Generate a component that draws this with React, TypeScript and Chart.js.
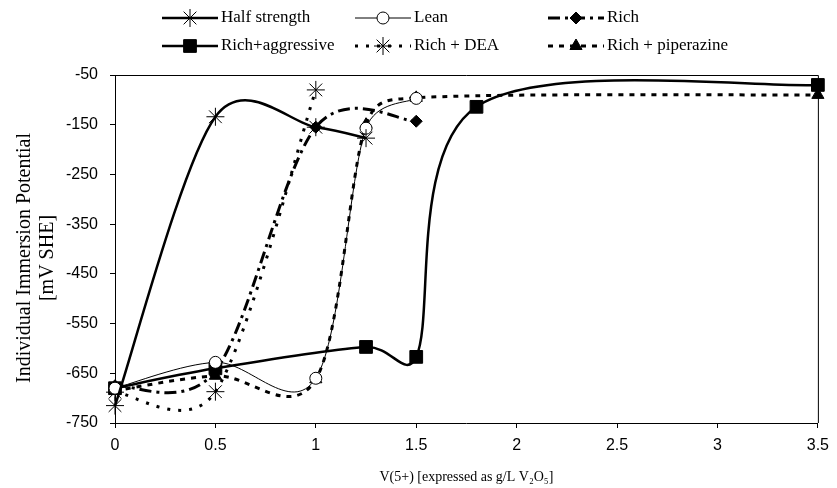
import React, { useEffect, useRef } from 'react';
import { Chart, registerables } from 'chart.js';
import { drawPoint } from 'chart.js/helpers';

Chart.register(...registerables);

// ---- data ----
const halfX = [0, 0.5, 1, 1.25];
const halfY = [-715, -134, -155, -177];
const leanX = [0, 0.5, 1, 1.25, 1.5];
const leanY = [-680, -628, -660, -157, -97];
const richX = [0, 0.5, 1, 1.5];
const richY = [-675, -645, -155, -143];
const aggrX = [0, 0.5, 1.25, 1.5, 1.8, 3.5];
const aggrY = [-680, -640, -597, -617, -114, -70];
const deaX = [0, 0.5, 1];
const deaY = [-688, -687, -80];
const pipX = [0, 0.5, 1, 1.25, 1.5, 3.5];
const pipY = [-685, -655, -662, -150, -96, -90];

const seriesNames = ['Half strength', 'Lean', 'Rich', 'Rich+aggressive', 'Rich + DEA', 'Rich + piperazine'];
const xTitle = 'V(5+) [expressed as g/L V\u2082O\u2085]';
const yTitle = ['Individual Immersion Potential', '[mV SHE]'];

const pts = (xs: number[], ys: number[]) => xs.map((x, i) => ({ x, y: ys[i] }));

const LEGEND_POS = [
  { x0: 162, x1: 218, y: 18 },
  { x0: 355, x1: 411, y: 18 },
  { x0: 548, x1: 604, y: 18 },
  { x0: 162, x1: 218, y: 46 },
  { x0: 355, x1: 411, y: 46 },
  { x0: 548, x1: 604, y: 46 },
];

// Excel-like smoothing: control arms (next - prev) / 6, limited to half of the adjacent segment
const excelSmooth = {
  id: 'excelSmooth',
  beforeDatasetDraw(chart: any, args: any) {
    const meta = args.meta;
    const els = meta.data;
    const n = els.length;
    for (let i = 0; i < n; i++) {
      const p = els[i];
      const prev = els[Math.max(i - 1, 0)];
      const next = els[Math.min(i + 1, n - 1)];
      const tx = next.x - prev.x;
      const ty = next.y - prev.y;
      const tl = Math.hypot(tx, ty) || 1;
      const arm = tl / 6;
      const dPrev = Math.hypot(p.x - prev.x, p.y - prev.y);
      const dNext = Math.hypot(next.x - p.x, next.y - p.y);
      const a1 = Math.min(arm, dPrev / 2);
      const a2 = Math.min(arm, dNext / 2);
      p.cp1x = p.x - (tx / tl) * a1;
      p.cp1y = p.y - (ty / tl) * a1;
      p.cp2x = p.x + (tx / tl) * a2;
      p.cp2y = p.y + (ty / tl) * a2;
    }
    meta.dataset._pointsUpdated = true;
  },
};

const legendPlugin = {
  id: 'customLegend',
  afterDraw(chart: any) {
    const ctx = chart.ctx;
    chart.data.datasets.forEach((ds: any, i: number) => {
      const p = LEGEND_POS[i];
      ctx.save();
      ctx.strokeStyle = ds.borderColor;
      ctx.lineWidth = ds.borderWidth;
      ctx.setLineDash(ds.borderDash || []);
      ctx.beginPath();
      ctx.moveTo(p.x0, p.y);
      ctx.lineTo(p.x1, p.y);
      ctx.stroke();
      ctx.setLineDash([]);
      ctx.fillStyle = ds.pointBackgroundColor;
      ctx.strokeStyle = ds.pointBorderColor;
      ctx.lineWidth = ds.pointBorderWidth;
      drawPoint(ctx, { pointStyle: ds.pointStyle, radius: ds.pointRadius, rotation: 0, borderWidth: ds.pointBorderWidth } as any, (p.x0 + p.x1) / 2, p.y);
      ctx.fillStyle = '#000';
      ctx.font = '17px "Liberation Serif", "Times New Roman", serif';
      ctx.textBaseline = 'middle';
      ctx.textAlign = 'left';
      ctx.fillText(ds.label, p.x1 + 3, p.y);
      ctx.restore();
    });
  },
};

// y-axis title (two rotated lines)
const yTitlePlugin = {
  id: 'yTitle',
  afterDraw(chart: any) {
    const ctx = chart.ctx;
    const a = chart.chartArea;
    const cy = (a.top + a.bottom) / 2 + 9;
    const xs = [25, 48];
    ctx.save();
    ctx.fillStyle = '#000';
    ctx.font = '20px "Liberation Serif", "Times New Roman", serif';
    ctx.textAlign = 'center';
    ctx.textBaseline = 'middle';
    yTitle.forEach((t, i) => {
      ctx.save();
      ctx.translate(xs[i], cy);
      ctx.rotate(-Math.PI / 2);
      ctx.fillText(t, 0, 0);
      ctx.restore();
    });
    ctx.restore();
  },
};

const boxPlugin = {
  id: 'boxBorder',
  afterDatasetsDraw(chart: any) {
    const { ctx, chartArea: a } = chart;
    ctx.save();
    ctx.strokeStyle = '#000';
    ctx.lineWidth = 1;
    ctx.beginPath();
    ctx.moveTo(a.left, a.top + 0.5);
    ctx.lineTo(a.right + 0.5, a.top + 0.5);
    ctx.lineTo(a.right + 0.5, a.bottom);
    ctx.stroke();
    ctx.restore();
  },
};

const fmt = (v: any) => String(Number(v));

export default function App() {
  const ref = useRef<HTMLCanvasElement>(null);
  useEffect(() => {
    const common = { borderColor: '#000', pointBorderColor: '#000', clip: false as any, tension: 0.4 };
    const chart = new Chart(ref.current!, {
      type: 'line',
      data: {
        datasets: [
          { ...common, label: seriesNames[0], data: pts(halfX, halfY), borderWidth: 2.5, pointStyle: 'star', pointRadius: 9, pointBorderWidth: 1, pointBackgroundColor: 'rgba(0,0,0,0)' },
          { ...common, label: seriesNames[1], data: pts(leanX, leanY), borderWidth: 1, pointStyle: 'circle', pointRadius: 6, pointBorderWidth: 1, pointBackgroundColor: '#fff' },
          { ...common, label: seriesNames[2], data: pts(richX, richY), borderWidth: 3, borderDash: [12, 5, 3, 5], pointStyle: 'rectRot', pointRadius: 6, pointBorderWidth: 1, pointBackgroundColor: '#000' },
          { ...common, label: seriesNames[3], data: pts(aggrX, aggrY), borderWidth: 2.5, pointStyle: 'rect', pointRadius: 9, pointBorderWidth: 1, pointBackgroundColor: '#000' },
          { ...common, label: seriesNames[4], data: pts(deaX, deaY), borderWidth: 3, borderDash: [3, 8], pointStyle: 'star', pointRadius: 9, pointBorderWidth: 1, pointBackgroundColor: 'rgba(0,0,0,0)' },
          { ...common, label: seriesNames[5], data: pts(pipX, pipY), borderWidth: 3, borderDash: [5, 6], pointStyle: 'triangle', pointRadius: 7, pointBorderWidth: 1, pointBackgroundColor: '#000' },
        ] as any,
      },
      options: {
        animation: false,
        responsive: false,
        devicePixelRatio: 1,
        layout: { padding: { left: 0, top: 75, right: 14, bottom: 0 } },
        plugins: { legend: { display: false }, tooltip: { enabled: false } },
        scales: {
          x: {
            type: 'linear',
            min: 0,
            max: 3.5,
            afterFit: (s: any) => { s.height = 65; },
            ticks: { stepSize: 0.5, padding: 8, color: '#000', font: { family: '"Liberation Sans", Arial, sans-serif', size: 16 }, maxRotation: 0, callback: fmt },
            grid: { display: true, drawOnChartArea: false, drawTicks: true, tickLength: 5, color: '#000' },
            border: { display: true, color: '#000', width: 1 },
            title: { display: true, text: xTitle, color: '#000', font: { family: '"Liberation Serif", "Times New Roman", serif', size: 14 }, padding: { top: 0, bottom: 2 } },
          },
          y: {
            type: 'linear',
            min: -750,
            max: -50,
            afterFit: (s: any) => { s.width = 115; },
            ticks: { stepSize: 100, padding: 12, color: '#000', font: { family: '"Liberation Sans", Arial, sans-serif', size: 16 }, callback: fmt },
            grid: { display: true, drawOnChartArea: false, drawTicks: true, tickLength: 5, color: '#000' },
            border: { display: true, color: '#000', width: 1 },
            title: { display: false },
          },
        },
      } as any,
      plugins: [excelSmooth, legendPlugin, yTitlePlugin, boxPlugin],
    });
    return () => chart.destroy();
  }, []);
  return (
    <div style={{ position: 'fixed', left: 0, top: 0, width: 837, height: 488, background: '#fff' }}>
      <canvas ref={ref} width={837} height={488} style={{ width: 837, height: 488 }} />
    </div>
  );
}
